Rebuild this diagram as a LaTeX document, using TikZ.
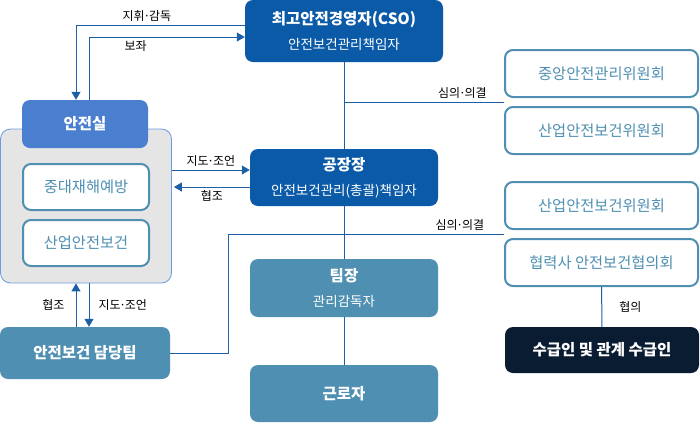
\documentclass[tikz,border=0pt]{standalone}
\usepackage{fontspec}
\setmainfont{Noto Sans CJK KR}
\usepackage{xcolor}
\usepackage{tikz}
\usetikzlibrary{arrows.meta, positioning, calc}

\definecolor{ceoblue}{HTML}{0B5AA8}
\definecolor{roomblue}{HTML}{4A7FCF}
\definecolor{steel}{HTML}{4E8FB2}
\definecolor{navy}{HTML}{0A1C32}
\definecolor{linkblue}{HTML}{1F5FA6}
\definecolor{panelgray}{HTML}{E5E5E5}
\definecolor{panelline}{HTML}{6B9BE0}

\newcommand{\mdot}{\kern-.1em·\kern-.1em}
\newcommand{\titletext}{\bfseries\fontsize{15.5}{24}\selectfont}

\begin{document}
\begin{tikzpicture}[
    x=1pt, y=-1pt,
    node distance=8pt,
    box/.style={rectangle, rounded corners=8pt, inner sep=0pt, align=center, text=white},
    head/.style={box, fill=ceoblue, minimum width=188pt, minimum height=57pt, font=\fontsize{13.5}{25}\selectfont},
    sub/.style={box, fill=steel, minimum width=188pt, minimum height=57pt, font=\fontsize{13.5}{25}\selectfont},
    committee/.style={box, draw=steel, line width=2pt, fill=white, text=steel, minimum width=193pt, minimum height=47pt, font=\fontsize{15.3}{17}\selectfont},
    unit/.style={box, draw=steel, line width=2pt, fill=white, text=steel, minimum width=126pt, minimum height=46pt, font=\fontsize{15.3}{17}\selectfont},
    arrow/.style={-{Triangle[width=9pt, length=8pt]}, linkblue, line width=1pt},
    link/.style={linkblue, line width=1pt},
    tag/.style={font=\fontsize{12}{14}\selectfont, text=black, inner sep=3pt},
]
    \useasboundingbox (0,0) rectangle (700,432);

    % Management line
    \node[head, minimum width=198pt, minimum height=62pt] (cso) at (344,31)
        {{\titletext 최고안전경영자(CSO)}\\안전보건관리책임자};
    \node[head] (plant) at (344,177.5)
        {{\titletext 공장장}\\안전보건관리(총괄)책임자};
    \node[sub, minimum height=58pt] (leader) at (344,288)
        {{\titletext 팀장}\\관리감독자};
    \node[sub] (worker) at (344,393.5) {\titletext 근로자};

    % Safety office
    \node[box, fill=panelgray, draw=panelline, line width=0.8pt, rounded corners=10pt,
        minimum width=171pt, minimum height=154pt] (panel) at (86,206) {};
    \node[box, fill=roomblue, minimum width=126pt, minimum height=48pt,
        font=\titletext] (room) at (85,124) {안전실};
    \node[unit] (prevent) at (86,187) {중대재해예방};
    \node[unit, below=of prevent] (health) {산업안전보건};
    \node[sub, minimum width=170pt, minimum height=52pt, font=\titletext]
        (team) at (85,353) {안전보건 담당팀};

    % Committees
    \node[committee] (central) at (601.5,73.5) {중앙안전관리위원회};
    \node[committee, below=of central] (council) {산업안전보건위원회};
    \node[committee] (council2) at (601.5,205.5) {산업안전보건위원회};
    \node[committee, below=of council2] (partner) {협력사 안전보건협의회};
    \node[box, fill=navy, minimum width=194pt, minimum height=46pt,
        font=\titletext] (contractor) at (602,350) {수급인 및 관계 수급인};

    % Spine
    \draw[link] (cso) -- (plant);
    \draw[link] (plant) -- (leader);
    \draw[link] (leader) -- (worker);

    % Deliberation
    \coordinate (gap1) at ($(central.south west)!0.5!(council.north west)$);
    \draw[link] (cso.south |- gap1) -- (gap1) node[tag, pos=0.74, above] {심의\mdot 의결};
    \coordinate (gap2) at ($(council2.south west)!0.5!(partner.north west)$);
    \coordinate (bend) at (228,234);
    \draw[link] (team.east) -| (bend) -- (gap2) node[tag, pos=0.84, above] {심의\mdot 의결};
    \draw[link] (partner) -- node[tag, right, xshift=14pt] {협의} (contractor);

    % Arrows
    \draw[arrow] ([yshift=6pt]cso.west) -| node[tag, pos=0.29, above] {지휘\mdot 감독} ([xshift=-9pt]room.north);
    \draw[arrow] ([xshift=4pt]room.north) |- node[tag, pos=0.65, below] {보좌} ([yshift=-6pt]cso.west);
    \coordinate (guide) at ([yshift=7.5pt]plant.west);
    \coordinate (coop) at ([yshift=-9.5pt]plant.west);
    \draw[arrow] (panel.east |- guide) -- node[tag, above] {지도\mdot 조언} (guide);
    \draw[arrow] (coop) -- node[tag, below] {협조} ([xshift=2pt]panel.east |- coop);
    \draw[arrow] ([xshift=-9pt]team.north) -- node[tag, left, xshift=-8pt] {협조} ([xshift=-10pt]panel.south);
    \draw[arrow] ([xshift=3pt]panel.south) -- node[tag, right, xshift=6pt] {지도\mdot 조언} ([xshift=4pt]team.north);
\end{tikzpicture}
\end{document}
